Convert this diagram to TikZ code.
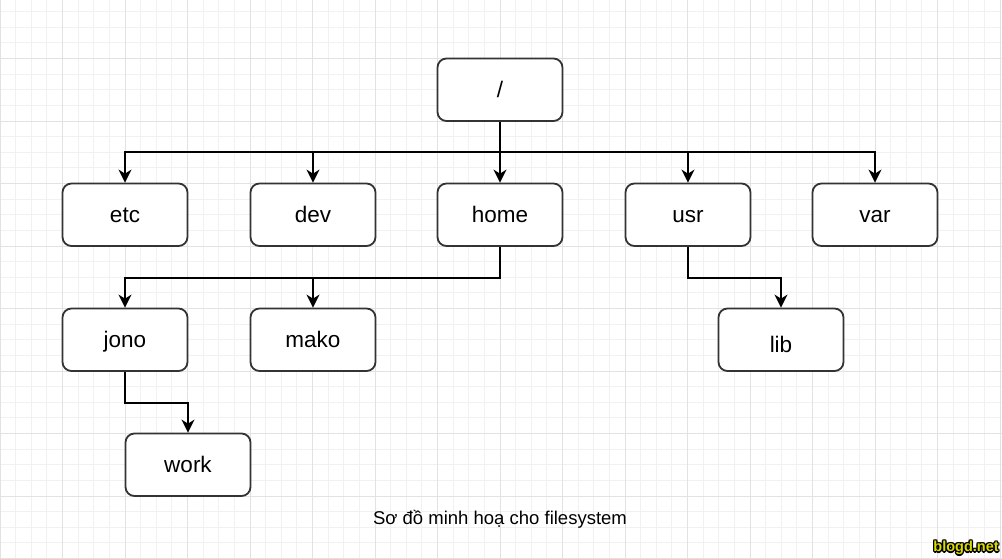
\documentclass[tikz,border=0pt]{standalone}
\usepackage{fontspec}
\setmainfont{Liberation Sans}
\usetikzlibrary{arrows.meta}
\definecolor{gridminor}{HTML}{F1F1F1}
\definecolor{gridmajor}{HTML}{E2E2E2}
\definecolor{boxborder}{HTML}{333333}
\definecolor{wmyellow}{HTML}{DCDC00}
\tikzset{
  dirbox/.style={draw=boxborder, line width=1.8pt, rounded corners=9pt, fill=white,
    minimum width=125pt, minimum height=62.5pt, inner sep=0pt,
    text height=16pt, text depth=0pt,
    font=\fontsize{22.5}{27}\selectfont},
  conn/.style={draw=black, line width=1.9pt, -{Stealth[length=13pt,width=13pt,inset=4pt]}},
  minorline/.style={draw=gridminor, line width=1pt},
  majorline/.style={draw=gridmajor, line width=1pt},
  wm/.style={font=\fontsize{14.5}{17}\selectfont\bfseries, inner sep=0pt}
}
\begin{document}
\begin{tikzpicture}[x=1pt,y=-1pt]
\useasboundingbox (0,0) rectangle (1002,558);
\fill[white] (0,0) rectangle (1002,558);
% grid
\begin{scope}
\clip (0,0) rectangle (1002,558);
\foreach \i in {0,...,64} {
  \draw[minorline] (\i*15.625,0) -- (\i*15.625,558);
}
\foreach \j in {0,...,36} {
  \draw[minorline] (0,-4+\j*15.625) -- (1002,-4+\j*15.625);
}
\foreach \i in {0,...,16} {
  \draw[majorline] (\i*62.5,0) -- (\i*62.5,558);
}
\foreach \j in {0,...,9} {
  \draw[majorline] (0,-4+\j*62.5) -- (1002,-4+\j*62.5);
}
\end{scope}
% nodes
\node[dirbox] (root) at (500,89.75) {/};
\node[dirbox] (etc)  at (125,214.75) {etc};
\node[dirbox] (dev)  at (313,214.75) {dev};
\node[dirbox] (home) at (500,214.75) {home};
\node[dirbox] (usr)  at (688,214.75) {usr};
\node[dirbox] (var)  at (875,214.75) {var};
\node[dirbox] (jono) at (125,339.75) {jono};
\node[dirbox] (mako) at (313,339.75) {mako};
\node[dirbox] (lib) at (781,339.75) {\raisebox{-5pt}{lib}};
\node[dirbox] (work) at (188,464.75) {work};
% connectors
\coordinate (bus) at (500,152.25);
\draw[conn] (root.south) -- (home.north);
\draw[conn] (root.south) -- (bus) -| (etc.north);
\draw[conn] (root.south) -- (bus) -| (dev.north);
\draw[conn] (root.south) -- (bus) -| (usr.north);
\draw[conn] (root.south) -- (bus) -| (var.north);
\draw[conn] (home.south) -- ++(0,31.25) -| (jono.north);
\draw[conn] (home.south) -- ++(0,31.25) -| (mako.north);
\draw[conn] (usr.south) -- ++(0,31.25) -| (lib.north);
\draw[conn] (jono.south) -- ++(0,31.25) -| (work.north);
% caption
\node[font=\fontsize{18.5}{22}\selectfont, inner sep=0pt] (caption) at (500,519) {Sơ đồ minh hoạ cho filesystem};
% watermark: black outline made of offset copies, yellow on top
\foreach \dx/\dy in {-1/-1,-1/1,1/-1,1/1,-1.3/0,1.3/0,0/1.3,0/-1.3} {
  \node[wm, text=black] at (966+\dx,548+\dy) {blogd.net};
}
\node[wm, text=wmyellow] (wmark) at (966,548) {blogd.net};
\end{tikzpicture}
\end{document}
